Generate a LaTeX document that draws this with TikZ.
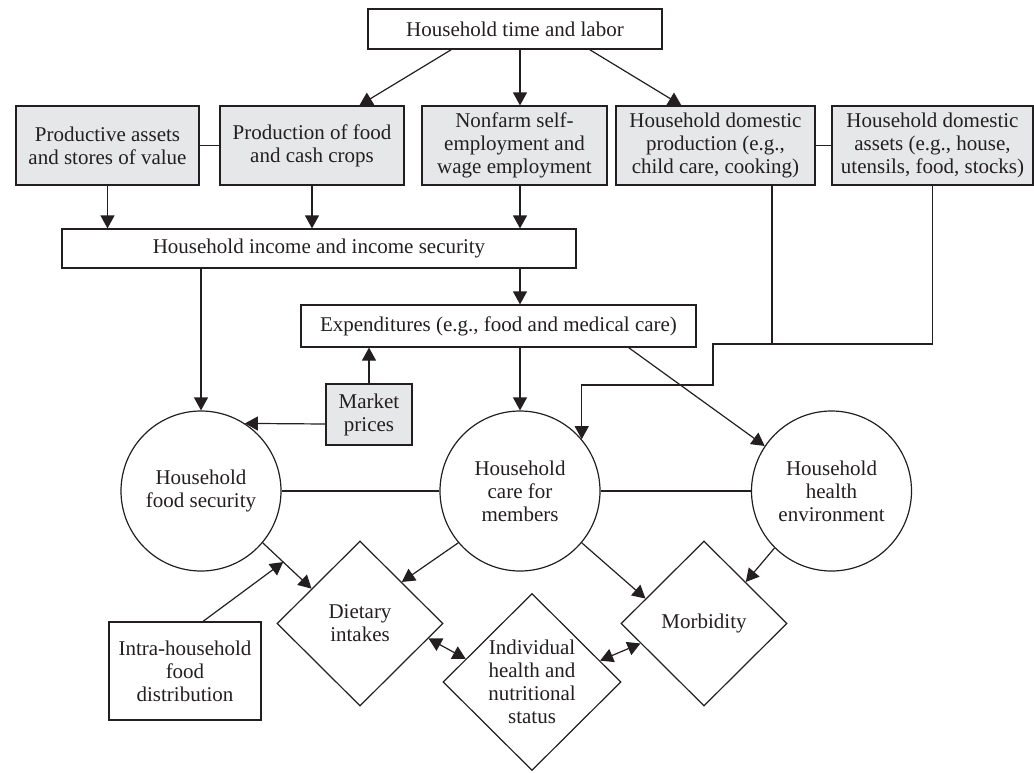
\documentclass[tikz,border=0pt]{standalone}
\usepackage{fontspec}
\setmainfont{Liberation Serif}
\usetikzlibrary{arrows.meta,shapes.geometric,calc}
\definecolor{ink}{HTML}{231F20}
\definecolor{boxgray}{HTML}{E6E7E8}
\begin{document}
\begin{tikzpicture}[x=1pt,y=-1pt,
  every node/.style={font=\fontsize{21}{23}\selectfont, text=ink, align=center, inner sep=0pt},
  box/.style={draw=ink, line width=1.2pt, rectangle},
  gbox/.style={box, fill=boxgray},
  circ/.style={draw=ink, line width=1.2pt, circle, minimum size=160pt},
  dia/.style={draw=ink, line width=1.2pt, diamond},
  arr/.style={draw=ink, line width=1.2pt, -{Triangle[length=13pt,width=14pt]}},
  darr/.style={draw=ink, line width=1.2pt, {Triangle[length=13pt,width=14pt]}-{Triangle[length=13pt,width=14pt]}},
  ln/.style={draw=ink, line width=1.2pt}]
\useasboundingbox (0,0) rectangle (1034,772);

\node[box, minimum width=294pt, minimum height=40pt] (top) at (515,29) {Household time and labor};
\node[gbox, minimum width=183pt, minimum height=79pt] (pa) at (107.5,145.5) {Productive assets\\and stores of value};
\node[gbox, minimum width=184pt, minimum height=79pt] (pf) at (312,145.5) {Production of food\\and cash crops};
\node[gbox, minimum width=185pt, minimum height=79pt] (nf) at (514.5,145.5) {Nonfarm self-\\employment and\\wage employment};
\node[gbox, minimum width=199pt, minimum height=79pt] (dp) at (715.5,145.5) {Household domestic\\production (e.g.,\\child care, cooking)};
\node[gbox, minimum width=201pt, minimum height=79pt] (da) at (932.5,145.5) {Household domestic\\assets (e.g., house,\\utensils, food, stocks)};
\node[box, minimum width=514pt, minimum height=39pt] (inc) at (319,248.5) {Household income and income security};
\node[box, minimum width=395pt, minimum height=42pt] (ex) at (498.5,326) {Expenditures (e.g., food and medical care)};
\node[gbox, minimum width=86pt, minimum height=61pt] (mp) at (369,414.5) {Market\\prices};
\node[circ] (fs) at (201,491) {Household\\food security};
\node[circ] (cm) at (520,491) {Household\\care for\\members};
\node[circ] (he) at (831.5,491) {Household\\health\\environment};
\node[dia, minimum width=166pt, minimum height=165pt] (di) at (360,623.5) {Dietary\\intakes};
\node[dia, minimum width=178pt, minimum height=177pt] (ih) at (532,682) {Individual\\health and\\nutritional\\status};
\node[dia, minimum width=166pt, minimum height=165pt] (mo) at (704,623.5) {Morbidity};
\node[box, minimum width=152pt, minimum height=98pt] (ib) at (185,671) {Intra-household\\food\\distribution};

\draw[arr] ([xshift=84pt]top.south west) -- ([xshift=140pt]pf.north west);
\draw[arr] (top.south -| cm.north) -- (nf.north -| cm.north);
\draw[arr] ([xshift=-73pt]top.south east) -- ([xshift=66pt]dp.north west);
\draw[ln] (pa.east) -- (pf.west);
\draw[ln] (dp.east) -- (da.west);
\draw[arr] (pa.south) -- (pa.south |- inc.north);
\draw[arr] (pf.south) -- (pf.south |- inc.north);
\draw[arr] (nf.south -| cm.north) -- (inc.north -| cm.north);
\draw[arr] (inc.south -| fs.north) -- (fs.north);
\draw[arr] (inc.south -| cm.north) -- (ex.north -| cm.north);
\draw[arr] (ex.south -| cm.north) -- (cm.north);
\draw[arr] (mp.north) -- (mp.north |- ex.south);
\coordinate (mpl) at ($(mp.west)+(0,9.5)$);
\draw[arr] (mpl) -- (fs.57);
\draw[arr] ([xshift=-68pt]ex.south east) -- (he.146);
\coordinate (e1) at (713,344);
\coordinate (e2) at (713,385);
\draw[ln] ([xshift=56.5pt]dp.south) -- ([xshift=56.5pt]dp.south |- e1);
\draw[arr] (da.south) |- (e1) -- (e2) -| (cm.40);
\draw[ln] (fs) -- (cm);
\draw[ln] (cm) -- (he);
\coordinate (dit) at ($(di.west)!0.42!(di.north)$);
\draw[arr] (fs.-40) -- (dit);
\coordinate (m) at ($(fs.-40)!0.42!(dit)$);
\draw[arr] ([xshift=18pt]ib.north) -- (m);
\draw[arr] (cm.220) -- (di.north east);
\draw[arr] (cm.-40) -- ($(mo.west)!0.3!(mo.north)$);
\draw[arr] (he.225) -- (mo.north east);
\draw[darr] ($(di.east)!0.18!(di.south)$) -- ($(ih.west)!0.26!(ih.north)$);
\draw[darr] ($(ih.north)!0.76!(ih.east)$) -- ($(mo.west)!0.24!(mo.south)$);
\end{tikzpicture}
\end{document}
